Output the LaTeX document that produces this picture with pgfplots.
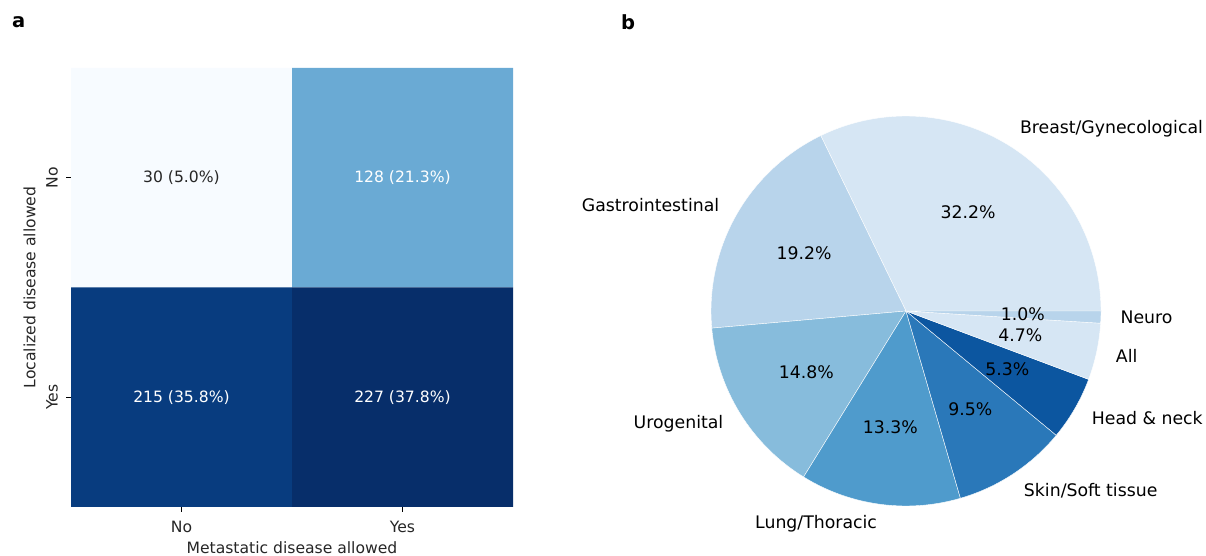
\documentclass[border=0pt]{standalone}
\usepackage{pgfplots}
\usepgfplotslibrary{polar}
\pgfplotsset{compat=1.18}
\usepackage{fontspec}
\setmainfont{DejaVu Sans}
\definecolor{cNN}{HTML}{F7FBFF}
\definecolor{cNY}{HTML}{6AAAD4}
\definecolor{cYN}{HTML}{083C7F}
\definecolor{cYY}{HTML}{072E6A}
\definecolor{pBreast}{HTML}{D6E6F4}
\definecolor{pGastro}{HTML}{B8D4EB}
\definecolor{pUro}{HTML}{87BCDC}
\definecolor{pLung}{HTML}{4F9BCC}
\definecolor{pSkin}{HTML}{2A78B9}
\definecolor{pHead}{HTML}{0C56A0}
\definecolor{txtdark}{HTML}{262626}
\newcommand{\hmfont}{\fontsize{15.6}{18}\selectfont}
\newcommand{\piefont}{\fontsize{17.3}{20}\selectfont}
\begin{document}
\begin{tikzpicture}
\path[use as bounding box] (0,0) rectangle (1206pt,556pt);
\node[anchor=base west, inner sep=0, font=\fontsize{19.5}{22}\selectfont\bfseries] at (12pt,528pt) {a};
\node[anchor=base west, inner sep=0, font=\fontsize{19.5}{22}\selectfont\bfseries] at (621pt,526pt) {b};

% ---------------- heatmap ----------------
\begin{axis}[
  at={(71pt,49pt)}, anchor=south west,
  scale only axis, width=442pt, height=439pt,
  xmin=-0.5, xmax=1.5, ymin=-0.5, ymax=1.5,
  xtick={0,1}, ytick={0,1},
  xticklabels={}, yticklabels={},
  xtick pos=left, ytick pos=left,
  axis line style={draw=none},
  tick align=outside, major tick length=5pt,
  every tick/.style={black, line width=1.1pt},
  clip=false,
]
\addplot[fill=cNN, draw=none] coordinates {(-0.5,0.5) (0.5,0.5) (0.5,1.5) (-0.5,1.5) (-0.5,0.5)};
\addplot[fill=cNY, draw=none] coordinates {(0.5,0.5) (1.5,0.5) (1.5,1.5) (0.5,1.5) (0.5,0.5)};
\addplot[fill=cYN, draw=none] coordinates {(-0.5,-0.5) (0.5,-0.5) (0.5,0.5) (-0.5,0.5) (-0.5,-0.5)};
\addplot[fill=cYY, draw=none] coordinates {(0.5,-0.5) (1.5,-0.5) (1.5,0.5) (0.5,0.5) (0.5,-0.5)};
\node[font=\hmfont, text=txtdark] at (axis cs:0,1) {30 (5.0\%)};
\node[font=\hmfont, text=white] at (axis cs:1,1) {128 (21.3\%)};
\node[font=\hmfont, text=white] at (axis cs:0,0) {215 (35.8\%)};
\node[font=\hmfont, text=white] at (axis cs:1,0) {227 (37.8\%)};
% tick labels
\node[font=\hmfont, text=txtdark] at (axis cs:0,-0.591) {No};
\node[font=\hmfont, text=txtdark] at (axis cs:1,-0.591) {Yes};
\node[font=\hmfont, text=txtdark, rotate=90] at (axis cs:-0.586,1) {No};
\node[font=\hmfont, text=txtdark, rotate=90] at (axis cs:-0.586,0) {Yes};
% axis labels
\node[font=\hmfont, text=txtdark] at (axis cs:0.5,-0.687) {Metastatic disease allowed};
\node[font=\hmfont, text=txtdark, rotate=90] at (axis cs:-0.688,0.5) {Localized disease allowed};
\end{axis}

% ---------------- pie ----------------
\begin{polaraxis}[
  at={(906pt,245pt)}, anchor=center,
  scale only axis, width=390pt, height=390pt,
  ymin=0, ymax=1, hide axis, clip=false,
]
\addplot[fill=pBreast, draw=white, line width=0.4pt, domain=0:115.92, samples=80] {1} -- (axis cs:0,0) -- cycle;
\addplot[fill=pGastro, draw=white, line width=0.4pt, domain=115.92:185.04, samples=50] {1} -- (axis cs:0,0) -- cycle;
\addplot[fill=pUro, draw=white, line width=0.4pt, domain=185.04:238.32, samples=40] {1} -- (axis cs:0,0) -- cycle;
\addplot[fill=pLung, draw=white, line width=0.4pt, domain=238.32:286.20, samples=40] {1} -- (axis cs:0,0) -- cycle;
\addplot[fill=pSkin, draw=white, line width=0.4pt, domain=286.20:320.40, samples=30] {1} -- (axis cs:0,0) -- cycle;
\addplot[fill=pHead, draw=white, line width=0.4pt, domain=320.40:339.48, samples=20] {1} -- (axis cs:0,0) -- cycle;
\addplot[fill=pBreast, draw=white, line width=0.4pt, domain=339.48:356.40, samples=20] {1} -- (axis cs:0,0) -- cycle;
\addplot[fill=pGastro, draw=white, line width=0.4pt, domain=356.40:360, samples=6] {1} -- (axis cs:0,0) -- cycle;
% category labels
\node[font=\piefont, anchor=west, inner sep=0] at (axis cs:57.96,1.1) {Breast/Gynecological};
\node[font=\piefont, anchor=east, inner sep=0] at (axis cs:150.48,1.1) {Gastrointestinal};
\node[font=\piefont, anchor=east, inner sep=0] at (axis cs:211.68,1.1) {Urogenital};
\node[font=\piefont, anchor=east, inner sep=0] at (axis cs:262.26,1.1) {Lung/Thoracic};
\node[font=\piefont, anchor=west, inner sep=0] at (axis cs:303.30,1.1) {Skin/Soft tissue};
\node[font=\piefont, anchor=west, inner sep=0] at (axis cs:329.94,1.1) {Head \& neck};
\node[font=\piefont, anchor=west, inner sep=0] at (axis cs:347.94,1.1) {All};
\node[font=\piefont, anchor=west, inner sep=0] at (axis cs:358.20,1.1) {Neuro};
% percentages
\node[font=\piefont, inner sep=0] at (axis cs:57.96,0.6) {32.2\%};
\node[font=\piefont, inner sep=0] at (axis cs:150.48,0.6) {19.2\%};
\node[font=\piefont, inner sep=0] at (axis cs:211.68,0.6) {14.8\%};
\node[font=\piefont, inner sep=0] at (axis cs:262.26,0.6) {13.3\%};
\node[font=\piefont, inner sep=0] at (axis cs:303.30,0.6) {9.5\%};
\node[font=\piefont, inner sep=0] at (axis cs:329.94,0.6) {5.3\%};
\node[font=\piefont, inner sep=0] at (axis cs:347.94,0.6) {4.7\%};
\node[font=\piefont, inner sep=0] at (axis cs:358.20,0.6) {1.0\%};
\end{polaraxis}
\end{tikzpicture}
\end{document}
